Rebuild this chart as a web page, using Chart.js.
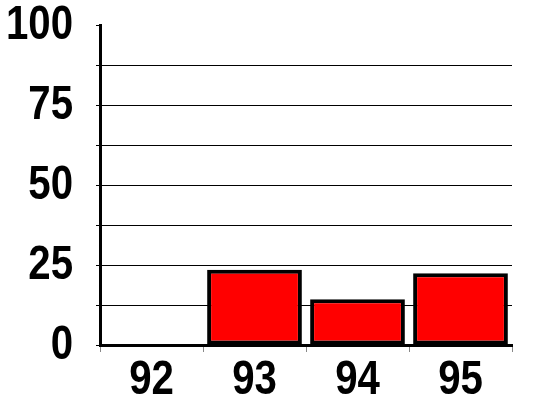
<!DOCTYPE html>
<html>
<head>
<meta charset="utf-8">
<script src="https://cdn.jsdelivr.net/npm/chart.js@4/dist/chart.umd.min.js"></script>
<style>
html,body{margin:0;padding:0;background:#fff;}
#wrap{width:537px;height:408px;position:relative;}
</style>
</head>
<body>
<div id="wrap"><canvas id="c"></canvas></div>
<script>
const categories = ['92', '93', '94', '95'];
const values = [0, 23.5, 14.3, 22.4];
const yLabelled = [0, 25, 50, 75, 100];

const FONT = "'Liberation Sans', Arial, sans-serif";
const NARROW = 0.82;

// Draw tick labels horizontally condensed (like Arial Narrow) — still real text via fillText.
function withNarrowText(ctx, fn) {
  const orig = CanvasRenderingContext2D.prototype.fillText;
  ctx.fillText = function (t, x, y, mw) {
    this.save();
    this.translate(x, y);
    this.scale(NARROW, 1);
    orig.call(this, t, 0, 0);
    this.restore();
  };
  try { fn(); } finally { delete ctx.fillText; }
}

class NarrowCategory extends Chart.CategoryScale {
  static id = 'narrowCategory';
  static defaults = Chart.CategoryScale.defaults;
  drawLabels(area) { withNarrowText(this.ctx, () => super.drawLabels(area)); }
}
class NarrowLinear extends Chart.LinearScale {
  static id = 'narrowLinear';
  static defaults = Chart.LinearScale.defaults;
  drawLabels(area) { withNarrowText(this.ctx, () => super.drawLabels(area)); }
}
Chart.register(NarrowCategory, NarrowLinear);

new Chart(document.getElementById('c'), {
  type: 'bar',
  data: {
    labels: categories,
    datasets: [{
      data: values,
      backgroundColor: '#ff0000',
      borderColor: '#000000',
      borderWidth: 4,
      borderSkipped: false,
      barPercentage: 0.92,
      categoryPercentage: 1
    }]
  },
  options: {
    responsive: true,
    maintainAspectRatio: false,
    animation: false,
    devicePixelRatio: 1,
    layout: { padding: { top: 25, right: 25, bottom: 0, left: 0 } },
    plugins: { legend: { display: false }, tooltip: { enabled: false } },
    scales: {
      x: {
        type: 'narrowCategory',
        offset: true,
        grid: {
          drawOnChartArea: false,
          drawTicks: true,
          tickLength: 7,
          tickColor: '#888888',
          tickWidth: 1,
          offset: true
        },
        border: { display: true, color: '#000000', width: 3 },
        ticks: {
          color: '#000000',
          padding: 0,
          maxRotation: 0,
          font: { family: FONT, size: 49, weight: 'bold', lineHeight: 1.15 }
        },
        afterFit: s => { s.height = 63; s.paddingLeft = 0; s.paddingRight = 0; }
      },
      y: {
        type: 'narrowLinear',
        min: 0,
        max: 100,
        grid: {
          color: ctx => (ctx.tick && ctx.tick.value === 100) ? 'rgba(0,0,0,0)' : '#000000',
          tickColor: '#000000',
          lineWidth: 1,
          tickLength: 4,
          drawTicks: true
        },
        border: { display: true, color: '#000000', width: 3 },
        ticks: {
          stepSize: 12.5,
          color: '#000000',
          padding: 23,
          autoSkip: false,
          callback: v => yLabelled.includes(v) ? String(v) : '',
          font: { family: FONT, size: 49, weight: 'bold', lineHeight: 1.15 }
        },
        afterFit: s => { s.width = 100; s.paddingTop = 0; s.paddingBottom = 0; }
      }
    }
  }
});
</script>
</body>
</html>
